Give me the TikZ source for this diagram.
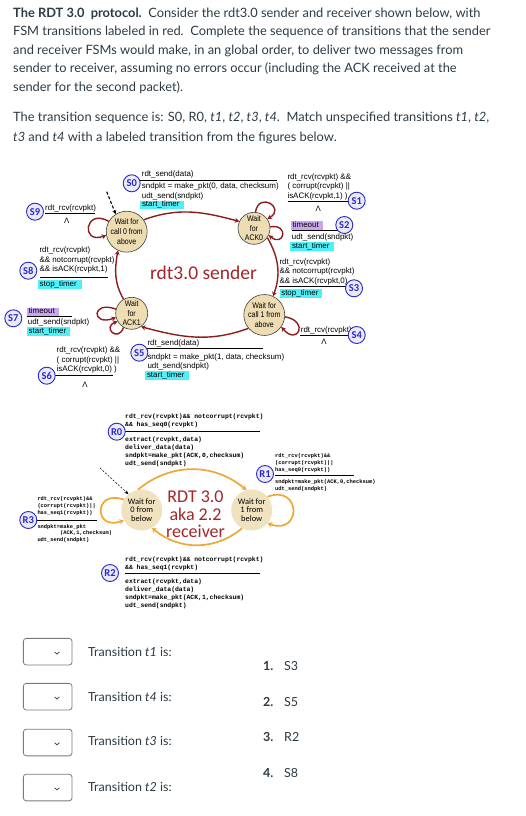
\documentclass[tikz,border=0pt]{standalone}
\usepackage{fontspec}
\setmainfont{Lato}
\newfontfamily\lsans{Liberation Sans}
\newfontfamily\nsans[FakeStretch=0.85]{Liberation Sans}
\newfontfamily\lmono{Liberation Mono}
\newfontfamily\carl{Carlito}
\usetikzlibrary{arrows.meta}
\definecolor{hdr}{HTML}{2D3B45}
\definecolor{sred}{HTML}{8E1C1C}
\definecolor{stan}{HTML}{EEDCB2}
\definecolor{rtan}{HTML}{F0E2BE}
\definecolor{orng}{HTML}{EFA735}
\definecolor{cyanhl}{HTML}{4CF2F7}
\definecolor{lavhl}{HTML}{C9A6EE}
\definecolor{lblue}{HTML}{2A2AC0}
\definecolor{lfill}{HTML}{E9E9FB}
\definecolor{ttlred}{HTML}{A3262A}
\definecolor{ddgray}{HTML}{7A7A7A}
\newcommand\tb[1]{\begin{tabular}[t]{@{}l@{}}#1\end{tabular}}
\begin{document}
\begin{tikzpicture}[x=1pt,y=1pt,
  hd/.style={anchor=base west, inner sep=0, text=hdr, font=\fontsize{12.85}{15}\selectfont},
  stxt/.style={anchor=base west, inner sep=0, font=\lsans\fontsize{7.95}{9.7}\selectfont},
  lam/.style={inner sep=0, font=\lsans\fontsize{7.8}{9}\selectfont},
  hlc/.style={anchor=base west, fill=cyanhl, inner xsep=1.8pt, inner ysep=0.5pt, text height=5.8pt, text depth=2pt, font=\lsans\fontsize{7.95}{9.7}\selectfont},
  hlv/.style={hlc, fill=lavhl},
  srule/.style={line width=0.8pt},
  mrule/.style={line width=0.5pt},
  sstate/.style={circle, draw=black!75, line width=0.6pt, fill=stan, minimum size=32pt, inner sep=0pt, align=center, font=\nsans\fontsize{8.2}{9.7}\selectfont},
  rstate/.style={circle, fill=rtan, minimum size=41pt, inner sep=0pt, align=center, font=\carl\fontsize{8.4}{8.7}\selectfont},
  tag/.style={circle, draw=lblue, line width=0.9pt, fill=lfill, minimum size=17pt, inner sep=0pt, text=lblue, font=\carl\bfseries\fontsize{10.5}{10.5}\selectfont},
  sarr/.style={draw=sred, line width=1.4pt, -{Stealth[length=4.5pt,width=5pt]}},
  rarr/.style={draw=orng, line width=1.7pt, -{Stealth[length=4.5pt,width=5.5pt]}},
  mtxt/.style={anchor=base west, inner sep=0, font=\lmono\bfseries\fontsize{6.4}{8.1}\selectfont},
  mtxs/.style={anchor=base west, inner sep=0, font=\lmono\bfseries\fontsize{5.4}{7}\selectfont},
  ddbox/.style={draw=ddgray, line width=0.8pt, rounded corners=3pt, minimum width=48.7pt, minimum height=26.7pt, inner sep=0},
  qtxt/.style={anchor=base west, inner sep=0, text=hdr, font=\fontsize{12.5}{15}\selectfont},
]
\fill[white] (0,0) rectangle (525,-816);
\useasboundingbox (0,0) rectangle (525,-816);

% ---------------- header ----------------
\node[hd] (h1) at (13,-17.2) {\textbf{The RDT 3.0\ \ protocol.}\ \ Consider the rdt3.0 sender and receiver shown below, with};
\node[hd] (h2) at (13,-35.5) {FSM transitions labeled in red.\ \ Complete the sequence of transitions that the sender};
\node[hd] (h3) at (13,-54.5) {and receiver FSMs would make, in an global order, to deliver two messages from};
\node[hd] (h4) at (13,-72.8) {sender to receiver, assuming no errors occur (including the ACK received at the};
\node[hd] (h5) at (13,-91.2) {sender for the second packet).};
\node[hd] (h6) at (13,-121.8) {The transition sequence is: S0, R0, \textit{t1}, \textit{t2}, \textit{t3}, \textit{t4}.\ \ Match unspecified transitions \textit{t1}, \textit{t2},};
\node[hd] (h7) at (13,-141.2) {\textit{t3} and \textit{t4} with a labeled transition from the figures below.};

% ---------------- sender FSM ----------------
\node[sstate] (c0) at (126.7,-231.7) {Wait for\\call 0 from\\above};
\node[sstate] (a0) at (254,-228.3) {Wait\\for\\ACK0};
\node[sstate] (c1) at (264.3,-315) {Wait for\\call 1 from\\above};
\node[sstate] (a1) at (131.7,-313.3) {Wait\\for\\ACK1};

\node[font=\carl\fontsize{19.5}{20}\selectfont, text=ttlred, inner sep=0] (stitle) at (203.5,-273) {rdt3.0 sender};

\coordinate (d0) at (106.7,-191.7);
\draw[line width=1.1pt, dashed, dash pattern=on 3pt off 2pt, -{Stealth[length=4pt,width=4pt]}] (d0) -- (c0.122);

\draw[sarr] (c0.35) to[out=20,in=165] (a0.155);
\draw[sarr] (a0.-35) to[out=-60,in=70] (c1.65);
\draw[sarr] (c1.-140) to[out=-160,in=-15] (a1.-55);
\draw[sarr] (a1.120) to[out=120,in=-100] (c0.-115);

\draw[sarr] (c0.150) to[out=150,in=200,looseness=5] (c0.190);
\draw[sarr] (a0.85) to[out=80,in=30,looseness=4] (a0.35);
\draw[sarr] (a0.5) to[out=10,in=-40,looseness=6] (a0.-25);
\draw[sarr] (c1.-5) to[out=-10,in=-50,looseness=6] (c1.-35);
\draw[sarr] (a1.165) to[out=160,in=200,looseness=8] (a1.195);
\draw[sarr] (a1.-120) to[out=-110,in=-160,looseness=5] (a1.-150);

% S0
\node[stxt] (s0a) at (141.7,-176.5) {rdt\_send(data)};
\draw[srule] (140,-180.7) -- (277,-180.7);
\node[stxt] (s0b) at (141.7,-188.5) {\tb{sndpkt = make\_pkt(0, data, checksum)\\udt\_send(sndpkt)}};
\node[hlc] (s0c) at (140,-206.8) {start\_timer\hspace*{2.5pt}};
\node[tag] (S0) at (131.7,-183.3) {S0};

% S1
\node[stxt] (s1a) at (287.3,-179.2) {\tb{rdt\_rcv(rcvpkt) \&\&\\( corrupt(rcvpkt) ||\\isACK(rcvpkt,1) )}};
\draw[srule] (288,-201.7) -- (348,-201.7);
\node[lam] (s1l) at (318.3,-208.8) {Λ};
\node[tag] (S1) at (356.7,-200.7) {S1};

% S2
\node[hlv] (s2a) at (290.7,-227.6) {timeout\hspace*{2pt}};
\draw[srule] (291.7,-230.5) -- (338,-230.5);
\node[stxt] (s2b) at (291.7,-239.2) {udt\_send(sndpkt)};
\node[hlc] (s2c) at (290,-248.3) {start\_timer\hspace*{2.5pt}};
\node[tag] (S2) at (344.3,-225) {S2};

% S3
\node[stxt] (s3a) at (279.3,-264.2) {\tb{rdt\_rcv(rcvpkt)\\\&\& notcorrupt(rcvpkt)\\\&\& isACK(rcvpkt,0)}};
\draw[srule] (279,-286.7) -- (347,-286.7);
\node[hlc] (s3b) at (279.3,-295.2) {stop\_timer\hspace*{2pt}};
\node[tag] (S3) at (354,-288.3) {S3};

% S4
\node[stxt] (s4a) at (300.7,-332.5) {rdt\_rcv(rcvpkt)};
\draw[srule] (300,-335) -- (350,-335);
\node[lam] (s4l) at (324,-341.5) {Λ};
\node[tag] (S4) at (356.7,-335) {S4};

% S5
\node[stxt] (s5a) at (147.3,-345.8) {rdt\_send(data)};
\draw[srule] (146.7,-348.3) -- (263.3,-348.3);
\node[stxt] (s5b) at (147.3,-359.2) {\tb{sndpkt = make\_pkt(1, data, checksum)\\udt\_send(sndpkt)}};
\node[hlc] (s5c) at (145,-377.6) {start\_timer\hspace*{2.5pt}};
\node[tag] (S5) at (139.3,-352.7) {S5};

% S6
\node[stxt] (s6a) at (56.5,-352.5) {\tb{rdt\_rcv(rcvpkt) \&\&\\( corrupt(rcvpkt) ||\\isACK(rcvpkt,0) )}};
\draw[srule] (53,-375) -- (113,-375);
\node[lam] (s6l) at (85,-385) {Λ};
\node[tag] (S6) at (46.7,-375.7) {S6};

% S7
\node[hlv] (s7a) at (26.7,-313.8) {timeout\hspace*{2pt}};
\draw[srule] (26.7,-316.7) -- (71.7,-316.7);
\node[stxt] (s7b) at (27.7,-324.2) {udt\_send(sndpkt)};
\node[hlc] (s7c) at (26.7,-333.7) {start\_timer\hspace*{2pt}};
\node[tag] (S7) at (13.3,-318.3) {S7};

% S8
\node[stxt] (s8a) at (39.3,-252.5) {\tb{rdt\_rcv(rcvpkt)\\\&\& notcorrupt(rcvpkt)\\\&\& isACK(rcvpkt,1)}};
\draw[srule] (40,-277.3) -- (108,-277.3);
\node[hlc] (s8b) at (37.7,-286.2) {stop\_timer\hspace*{3pt}};
\node[tag] (S8) at (28.3,-270.7) {S8};

% S9
\node[stxt] (s9a) at (45,-210.8) {rdt\_rcv(rcvpkt)};
\draw[srule] (45,-213.3) -- (95,-213.3);
\node[lam] (s9l) at (66.7,-220.7) {Λ};
\node[tag] (S9) at (35,-211.7) {S9};

% ---------------- receiver FSM ----------------
\node[rstate] (r0) at (141.7,-510) {Wait for\\0 from\\below};
\node[rstate] (r1) at (251.7,-510) {Wait for\\1 from\\below};
\node[font=\carl\fontsize{18}{17.5}\selectfont, text=ttlred, align=center, inner sep=0] (rtitle) at (195.5,-514.5) {RDT 3.0\\aka 2.2\\receiver};

\draw[rarr] (r0.100) to[out=40,in=140] (r1.105);
\draw[rarr] (r1.-118) to[out=-140,in=-40] (r0.-60);
\draw[rarr] (r0.150) to[out=160,in=200,looseness=4] (r0.210);
\draw[rarr] (r1.40) to[out=20,in=-20,looseness=3.5] (r1.-40);

\coordinate (d1) at (100,-468);
\draw[line width=0.5pt, dashed, dash pattern=on 2pt off 1.5pt, -{Stealth[length=4pt,width=3.5pt]}] (d1) -- (r0.130);

% R0
\node[mtxt] (r0a) at (125,-418) {\tb{rdt\_rcv(rcvpkt)\&\& notcorrupt(rcvpkt)\\\&\& has\_seq0(rcvpkt)}};
\draw[mrule] (125,-431.7) -- (260,-431.7);
\node[mtxt] (r0b) at (125,-441) {\tb{extract(rcvpkt,data)\\deliver\_data(data)\\sndpkt=make\_pkt(ACK,0,checksum)\\udt\_send(sndpkt)}};
\node[tag] (R0) at (116.7,-431.7) {R0};

% R2
\node[mtxt] (r2a) at (125,-561.3) {\tb{rdt\_rcv(rcvpkt)\&\& notcorrupt(rcvpkt)\\\&\& has\_seq1(rcvpkt)}};
\draw[mrule] (125,-573.3) -- (260,-573.3);
\node[mtxt, font=\lmono\bfseries\fontsize{6.4}{7.8}\selectfont] (r2b) at (125,-583.7) {\tb{extract(rcvpkt,data)\\deliver\_data(data)\\sndpkt=make\_pkt(ACK,1,checksum)\\udt\_send(sndpkt)}};
\node[tag] (R2) at (110,-573) {R2};

% R1
\node[mtxs] (r1a) at (275,-457.7) {\tb{rdt\_rcv(rcvpkt)\&\&\\(corrupt(rcvpkt)||\\has\_seq0(rcvpkt))}};
\draw[mrule] (275,-475.3) -- (354,-475.3);
\node[mtxs] (r1b) at (275,-483) {\tb{sndpkt=make\_pkt(ACK,0,checksum)\\udt\_send(sndpkt)}};
\node[tag] (R1) at (265,-474) {R1};

% R3
\node[mtxs] (r3a) at (37.3,-500.7) {\tb{rdt\_rcv(rcvpkt)\&\&\\(corrupt(rcvpkt)||\\has\_seq1(rcvpkt))}};
\draw[mrule] (37.3,-520.7) -- (96.7,-520.7);
\node[mtxs, font=\lmono\bfseries\fontsize{5.4}{6.4}\selectfont] (r3b) at (37.3,-528.4) {\tb{sndpkt=make\_pkt\\\hspace*{22.7pt}(ACK,1,checksum)\\udt\_send(sndpkt)}};
\node[tag] (R3) at (28.3,-520) {R3};

% ---------------- bottom ----------------
\node[ddbox] (b1) at (47.7,-651.7) {};
\node[ddbox] (b2) at (47.7,-696.7) {};
\node[ddbox] (b3) at (47.7,-742.5) {};
\node[ddbox] (b4) at (47.7,-787.5) {};
\foreach \yy in {-651.7,-696.7,-742.5,-787.5}
  \draw[line width=0.7pt, hdr] (54.6,\yy-0.2) -- (57,\yy-2.4) -- (59.4,\yy-0.2);

\node[qtxt] (q1) at (88,-656.3) {Transition \textit{t1} is:};
\node[qtxt] (q2) at (88,-701.3) {Transition \textit{t4} is:};
\node[qtxt] (q3) at (88,-745.3) {Transition \textit{t3} is:};
\node[qtxt] (q4) at (88,-791.3) {Transition \textit{t2} is:};

\node[qtxt] (n1) at (263,-670.3) {\textbf{1.}};
\node[qtxt] (l1) at (284,-670.3) {S3};
\node[qtxt] (n2) at (263,-706.3) {\textbf{2.}};
\node[qtxt] (l2) at (284,-706.3) {S5};
\node[qtxt] (n3) at (263,-741.3) {\textbf{3.}};
\node[qtxt] (l3) at (284,-741.3) {R2};
\node[qtxt] (n4) at (263,-777.3) {\textbf{4.}};
\node[qtxt] (l4) at (284,-777.3) {S8};
\end{tikzpicture}
\end{document}
